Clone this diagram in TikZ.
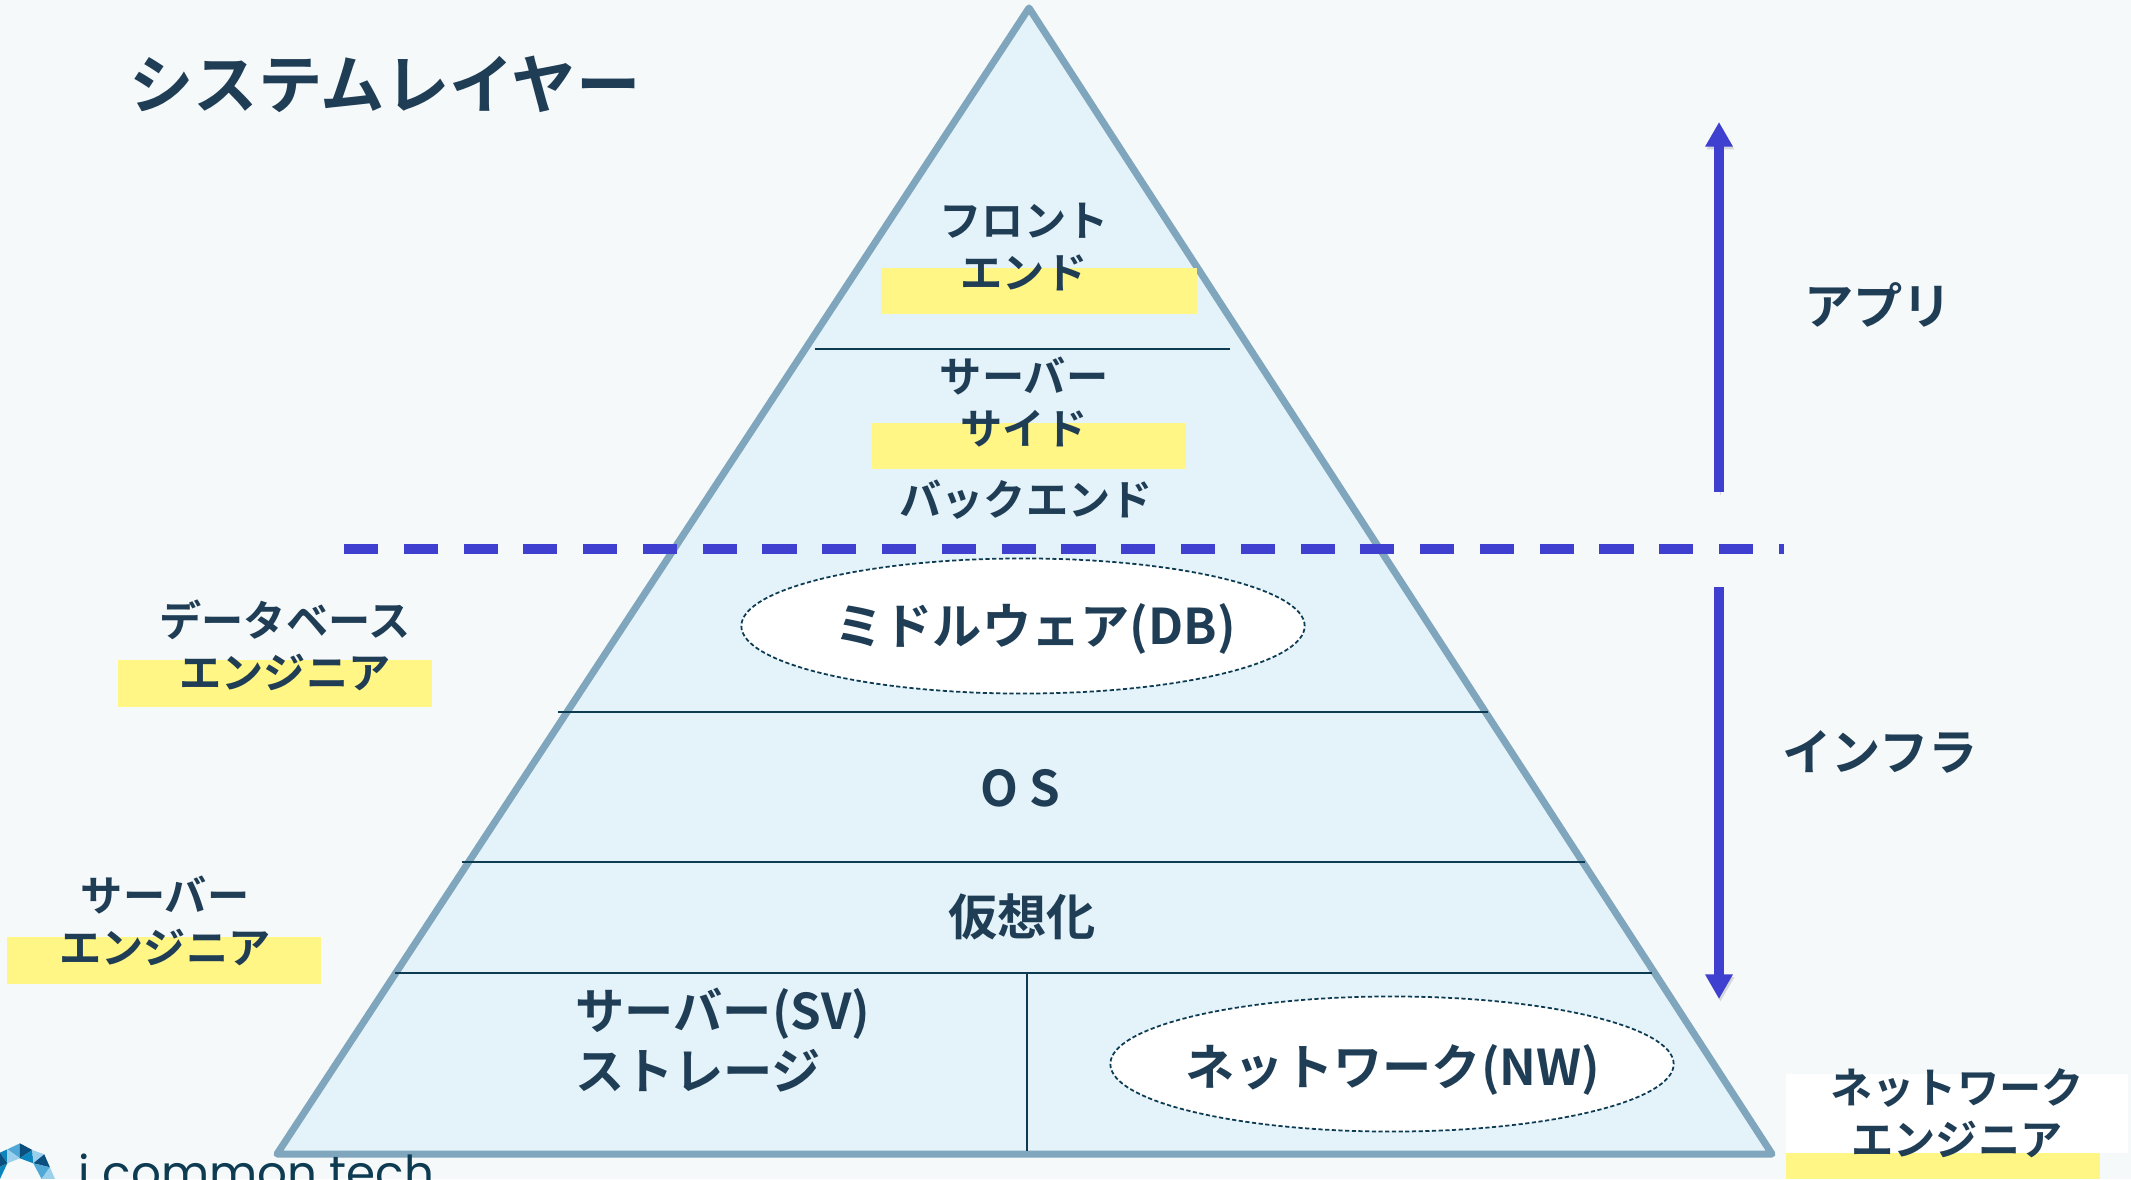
\documentclass[tikz,border=0pt]{standalone}
\usepackage{fontspec}
\usepackage{tikz}
\usetikzlibrary{arrows.meta,shapes.geometric}
\newfontfamily\jpfont{Noto Sans CJK JP Bold}
\newfontfamily\logofont{Poppins}
\definecolor{pagebg}{HTML}{F5F9FA}
\definecolor{pyramidfill}{HTML}{E4F3F9}
\definecolor{pyramidedge}{HTML}{7FA6BC}
\definecolor{labelcol}{HTML}{1F3D55}
\definecolor{linecol}{HTML}{0D3B52}
\definecolor{markcol}{HTML}{FFF685}
\definecolor{bluecol}{HTML}{4040D0}
\definecolor{logodark}{HTML}{0B4F7F}
\definecolor{logomid}{HTML}{0A85BD}
\definecolor{logosoft}{HTML}{4FA8D5}
\definecolor{logolight}{HTML}{9AD0EC}
\tikzset{
  label small/.style={text=labelcol,align=center,inner sep=0pt,font=\jpfont\fontsize{12}{14.8}\selectfont},
  label big/.style={text=labelcol,align=center,inner sep=0pt,font=\jpfont\fontsize{14}{17}\selectfont},
  marker/.style={fill=markcol,draw=none},
  divider/.style={draw=linecol,line width=0.6pt},
  bubble/.style={draw=linecol,fill=white,line width=0.5pt,dash pattern=on 1.2pt off 0.7pt,ellipse,minimum width=5.63cm,minimum height=1.35cm,inner sep=0pt},
  bluearrow/.style={draw=bluecol,line width=2.8pt,-{Triangle[length=7pt,width=7.4pt]},preaction={draw=black!45,opacity=.3,transform canvas={yshift=-0.8pt,xshift=0.4pt}}},
}
\begin{document}
\begin{tikzpicture}[x=0.01cm,y=-0.01cm]
  \fill[pagebg] (0,0) rectangle (2131,1179);
  \clip (0,0) rectangle (2131,1179);
  \useasboundingbox (0,0) rectangle (2131,1179);

  \coordinate (apex) at (1029,8);
  \coordinate (baseleft) at (277,1154);
  \coordinate (baseright) at (1772,1154);
  \filldraw[fill=pyramidfill,draw=pyramidedge,line width=2pt,line join=round] (apex) -- (baseleft) -- (baseright) -- cycle;

  \coordinate (fa) at (815,349);  \coordinate (fb) at (1230,349);
  \coordinate (ma) at (558,712);  \coordinate (mb) at (1488,712);
  \coordinate (oa) at (462,862);  \coordinate (ob) at (1585,862);
  \coordinate (va) at (395,973);  \coordinate (vb) at (1652,973);
  \coordinate (sa) at (1027,973); \coordinate (sb) at (1027,1151);
  \foreach \a/\b in {fa/fb,ma/mb,oa/ob,va/vb,sa/sb}
    \draw[divider] (\a) -- (\b);

  % yellow marks
  \fill[marker] (881,268) rectangle (1197,314);
  \fill[marker] (872,423) rectangle (1186,469);
  \fill[marker] (118,660) rectangle (432,707);
  \fill[marker] (7,937) rectangle (321,984);
  \fill[white] (1786,1074) rectangle (2128,1153);
  \fill[marker] (1786,1153) rectangle (2100,1179);

  \coordinate (splita) at (344,549);
  \coordinate (splitb) at (1784,549);
  \draw[draw=bluecol,line width=3pt,dash pattern=on 9.7pt off 7.3pt,preaction={draw=black!45,opacity=.3,dash pattern=on 9.7pt off 7.3pt,transform canvas={yshift=-1.2pt}}] (splita) -- (splitb);

  \node[bubble] (db) at (1023,626) {};
  \node[bubble] (nw) at (1392,1064) {};
  \node[label big] (dbtext) at (1035,629) {ミドルウェア(DB)};
  \node[label big] (nwtext) at (1393,1070) {ネットワーク(NW)};

  \coordinate (appfrom) at (1719,492);
  \coordinate (appto) at (1719,122);
  \coordinate (infrafrom) at (1719,587);
  \coordinate (infrato) at (1719,999);
  \draw[bluearrow] (appfrom) -- (appto);
  \draw[bluearrow] (infrafrom) -- (infrato);

  \node[text=labelcol,inner sep=0pt,font=\jpfont\fontsize{18.3}{20}\selectfont] (title) at (385,84) {システムレイヤー};
  \node[label small] (front) at (1024,247) {フロント\\エンド};
  \node[label small] (server) at (1024,402) {サーバー\\サイド};
  \node[label small] (back) at (1026,500) {バックエンド};
  \node[label big] (os) at (1020,788) {O S};
  \node[label big] (virt) at (1022,917) {仮想化};
  \node[label big,align=left] (sv) at (723,1040) {サーバー(SV)\\ストレージ};
  \node[label small] (dbeng) at (285,645) {データベース\\エンジニア};
  \node[label small] (sveng) at (165,921) {サーバー\\エンジニア};
  \node[label small] (nweng) at (1957,1113) {ネットワーク\\エンジニア};
  \node[label big] (app) at (1878,305) {アプリ};
  \node[label big] (infra) at (1880,752) {インフラ};

  % logo, cut off by the page edge
  \begin{scope}[shift={(0,1130)},x=0.00333cm,y=-0.00333cm]
    \foreach \xa/\ya/\xb/\yb/\xc/\yc/\c in {0/68/22/58/22/100/logomid,22/58/60/40/60/85/logosoft,22/58/60/85/22/100/logolight,60/40/97/60/60/85/logodark,60/85/97/60/100/100/logomid,97/60/133/73/100/100/logolight,133/73/150/112/100/100/logodark,100/100/150/112/125/147/logosoft,125/147/150/112/165/147/logolight,0/110/22/100/0/147/logomid,0/68/22/100/0/110/logodark}
      \fill[\c] (\xa,\ya) -- (\xb,\yb) -- (\xc,\yc) -- cycle;
  \end{scope}
  \node[anchor=base west,inner sep=0pt,text=linecol,font=\logofont\fontsize{13.3}{15}\selectfont] (logo) at (78,1189) {i common tech};
\end{tikzpicture}
\end{document}
